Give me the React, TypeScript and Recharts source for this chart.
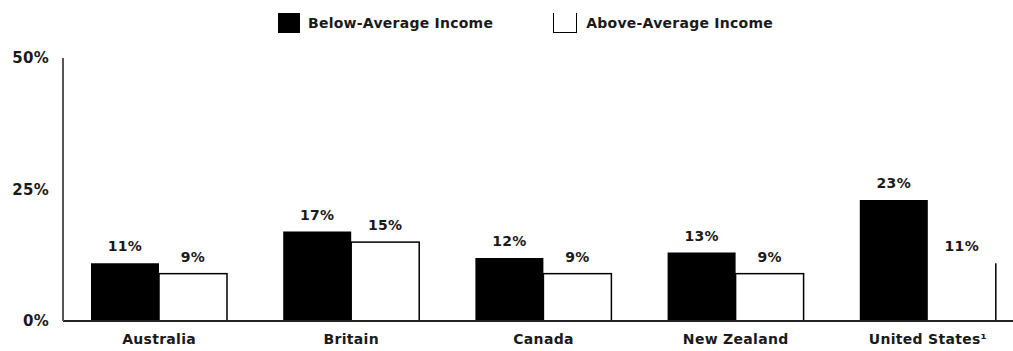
import { BarChart, Bar, XAxis, YAxis, LabelList } from 'recharts'

const countries = ['Australia', 'Britain', 'Canada', 'New Zealand', 'United States¹']
const belowAverage = [11, 17, 12, 13, 23]
const aboveAverage = [9, 15, 9, 9, 11]
const yTicks = [0, 25, 50]

const data = countries.map((country, i) => ({
  country,
  below: belowAverage[i],
  above: aboveAverage[i],
}))

const FONT = "'DejaVu Sans', sans-serif"
const INK = '#1a1a1a'
const labelStyle = { fontFamily: FONT, fontWeight: 700, fontSize: 14, fill: INK, letterSpacing: 0.3 }

const pct = (v: number) => `${v}%`

// outlined bar; the last one only keeps its right edge
function OpenBar(props: any) {
  const { x, y, width, height, index } = props
  if (index === countries.length - 1) {
    return <line x1={x + width} x2={x + width} y1={y} y2={y + height} stroke="#000" strokeWidth={1.5} />
  }
  return <rect x={x} y={y} width={width} height={height} fill="#fff" stroke="#000" strokeWidth={1.5} />
}

function LegendRow() {
  const text = { fontFamily: FONT, fontWeight: 700, fontSize: 14, color: INK, lineHeight: '20px', letterSpacing: 0.25 }
  return (
    <div style={{ position: 'absolute', top: 13, left: 278, display: 'flex', alignItems: 'center' }}>
      <div style={{ width: 22, height: 20, background: '#000' }} />
      <span style={{ ...text, marginLeft: 8 }}>Below-Average Income</span>
      <div style={{ boxSizing: 'border-box', width: 24, height: 20, marginLeft: 60, borderLeft: '1.5px solid #000', borderRight: '1.5px solid #000', borderBottom: '1.5px solid #000' }} />
      <span style={{ ...text, marginLeft: 9 }}>Above-Average Income</span>
    </div>
  )
}

export default function App() {
  return (
    <div style={{ position: 'fixed', left: 0, top: 0, width: 1013, height: 351, overflow: 'hidden', background: '#fff' }}>
      <LegendRow />
      <BarChart
        width={1030}
        height={351}
        data={data}
        margin={{ top: 58, right: 6, left: 0, bottom: 0 }}
        barCategoryGap={28}
        barGap={0}
      >
        <XAxis
          dataKey="country"
          height={30}
          tickLine={false}
          tickSize={0}
          tickMargin={13}
          axisLine={{ stroke: '#222', strokeWidth: 2 }}
          tick={labelStyle}
        />
        <YAxis
          width={63}
          domain={[0, 50]}
          ticks={yTicks}
          tickFormatter={pct}
          tickLine={false}
          tickSize={0}
          tickMargin={14}
          axisLine={{ stroke: '#555', strokeWidth: 2 }}
          tick={{ ...labelStyle, fontSize: 15 }}
        />
        <Bar dataKey="below" fill="#000" isAnimationActive={false}>
          <LabelList dataKey="below" position="top" offset={12} formatter={pct} style={labelStyle} />
        </Bar>
        <Bar dataKey="above" fill="#fff" shape={OpenBar} isAnimationActive={false}>
          <LabelList dataKey="above" position="top" offset={12} formatter={pct} style={labelStyle} />
        </Bar>
      </BarChart>
    </div>
  )
}
